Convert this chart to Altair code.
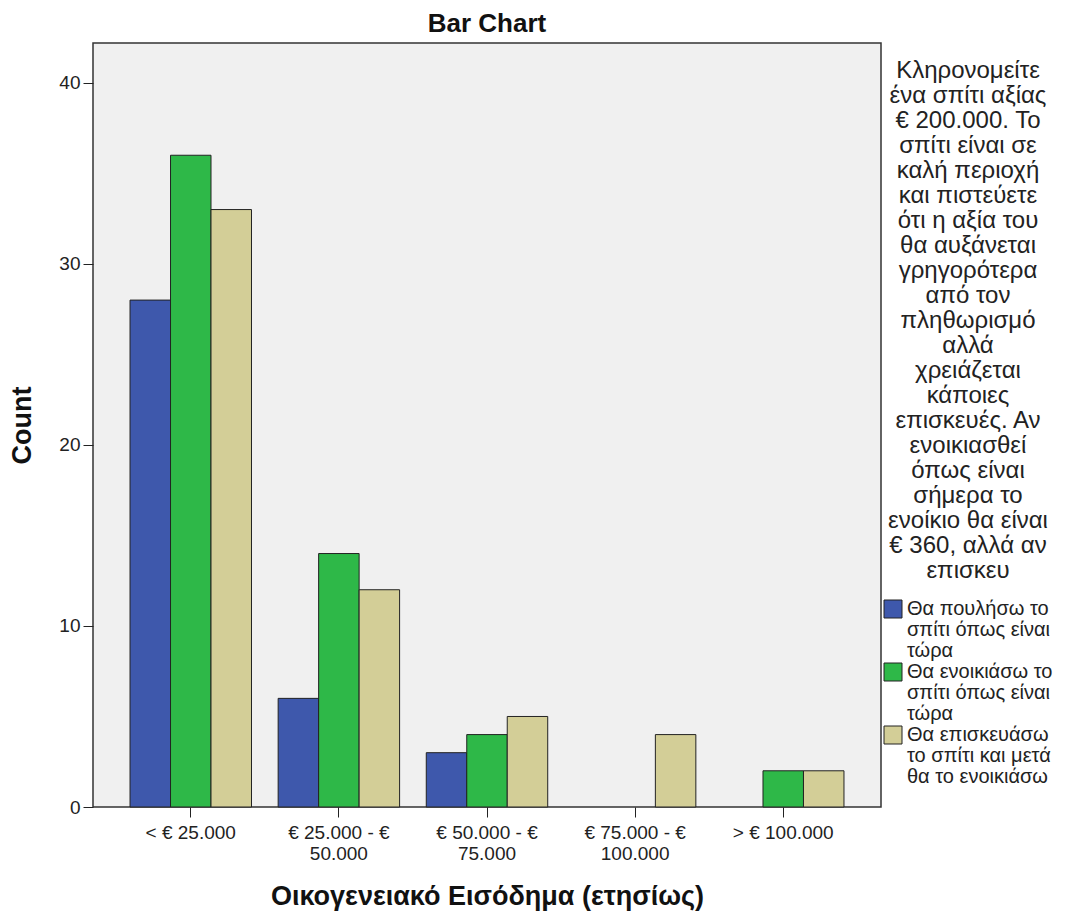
import altair as alt
import pandas as pd

categories = ["< € 25.000", "€ 25.000 - € 50.000", "€ 50.000 - € 75.000",
              "€ 75.000 - € 100.000", "> € 100.000"]
series = ["Θα πουλήσω το σπίτι όπως είναι τώρα",
          "Θα ενοικιάσω το σπίτι όπως είναι τώρα",
          "Θα επισκευάσω το σπίτι και μετά θα το ενοικιάσω"]
series_lines = [["Θα πουλήσω το", "σπίτι όπως είναι", "τώρα"],
                ["Θα ενοικιάσω το", "σπίτι όπως είναι", "τώρα"],
                ["Θα επισκευάσω", "το σπίτι και μετά", "θα το ενοικιάσω"]]
sell_now = [28, 6, 3, 0, 0]
rent_now = [36, 14, 4, 0, 2]
repair_rent = [33, 12, 5, 4, 2]
colors = ["#3E58AC", "#2EB848", "#D3CE97"]
legend_title = ["Κληρονομείτε", "ένα σπίτι αξίας", "€ 200.000. Το",
                "σπίτι είναι σε", "καλή περιοχή", "και πιστεύετε",
                "ότι η αξία του", "θα αυξάνεται", "γρηγορότερα", "από τον",
                "πληθωρισμό", "αλλά", "χρειάζεται", "κάποιες",
                "επισκευές. Αν", "ενοικιασθεί", "όπως είναι", "σήμερα το",
                "ενοίκιο θα είναι", "€ 360, αλλά αν", "επισκευ"]

rows = []
for s, vals in zip(series, [sell_now, rent_now, repair_rent]):
    for c, v in zip(categories, vals):
        rows.append({"income": c, "answer": s, "count": v})
df = pd.DataFrame(rows)

def js_arr(lines):
    return "[" + ",".join("'" + l + "'" for l in lines) + "]"

legend_expr = ""
for s, lines in zip(series[:-1], series_lines[:-1]):
    legend_expr += f"datum.label == '{s}' ? {js_arr(lines)} : "
legend_expr += js_arr(series_lines[-1])

FONT = "Liberation Sans"

chart = alt.Chart(df).transform_filter(
    alt.datum.count > 0
).mark_bar(stroke="#222222", strokeWidth=1).encode(
    x=alt.X("income:N", sort=categories,
            scale=alt.Scale(domain=categories, paddingInner=0.18, paddingOuter=0.25),
            axis=alt.Axis(title="Οικογενειακό Εισόδημα (ετησίως)", labelAngle=0,
                          labelExpr="split(replace(datum.label, '- € ', '- €\\n'), '\\n')",
                          labelFontSize=19, labelLineHeight=21, labelColor="#222222",
                          labelPadding=6, tickSize=10, tickColor="#222222",
                          domain=False, titleFontSize=27, titleFontWeight="bold",
                          titlePadding=20, titleColor="#111111")),
    xOffset=alt.XOffset("answer:N", sort=series, scale=alt.Scale(domain=series)),
    y=alt.Y("count:Q", scale=alt.Scale(domain=[0, 42.2], nice=False),
            axis=alt.Axis(title="Count", values=[0, 10, 20, 30, 40], grid=False,
                          domain=False, tickSize=10, tickColor="#222222",
                          labelFontSize=19, labelColor="#222222", labelPadding=3,
                          titleFontSize=27, titleFontWeight="bold", titlePadding=22,
                          titleColor="#111111")),
    color=alt.Color("answer:N", sort=series,
                    scale=alt.Scale(domain=series, range=colors),
                    legend=alt.Legend(title=legend_title, orient="none",
                                      legendX=790, legendY=16,
                                      titleFontSize=24, titleLineHeight=25,
                                      titleFontWeight="normal", titleColor="#222222",
                                      titleAlign="center", titleAnchor="middle",
                                      titlePadding=16, titleLimit=400,
                                      labelExpr=legend_expr, labelFontSize=20,
                                      labelColor="#222222", labelLimit=300,
                                      labelOffset=4, labelBaseline="middle",
                                      symbolType="square", symbolSize=324,
                                      symbolStrokeColor="#222222",
                                      symbolStrokeWidth=1, rowPadding=0,
                                      padding=0)),
).properties(
    width=788, height=764,
    title=alt.TitleParams("Bar Chart", fontSize=26, fontWeight="bold",
                          anchor="middle", offset=6, color="#111111"),
    autosize=alt.AutoSizeParams(type="none"),
    padding={"left": 85, "top": 35, "right": 180, "bottom": 104},
).configure(
    font=FONT, background="white",
    style={"guide-label": {"lineHeight": 21}},
).configure_view(
    fill="#F0F0F0", stroke="#333333", strokeWidth=1.5
)

chart.save("out.html", embed_options={"renderer": "svg", "actions": False})
